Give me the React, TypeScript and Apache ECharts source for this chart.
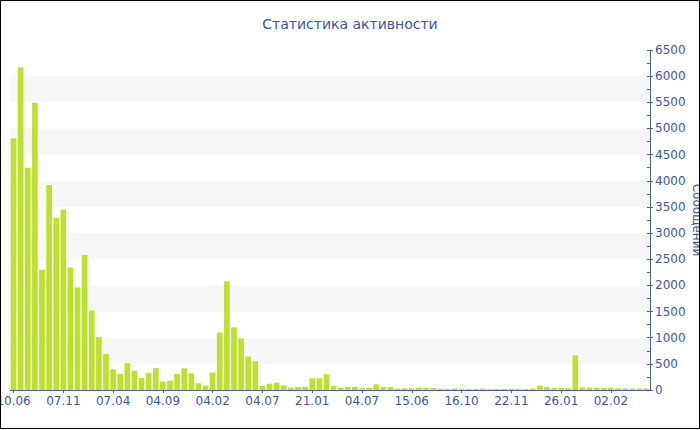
import React, { useEffect, useRef } from "react";
import * as echarts from "echarts";

const titleText = "Статистика активности";
const yAxisName = "Сообщений";

// labels shown every 7th category
const tickLabels = [
  "10.06", "07.11", "07.04", "04.09", "04.02", "04.07", "21.01",
  "04.07", "15.06", "16.10", "22.11", "26.01", "02.02",
];

// messages per period (90 bars)
const messageCounts = [
  4810, 6170, 4250, 5490, 2300, 3920, 3290, 3450, 2340, 1960,
  2580, 1520, 1010, 690, 395, 305, 510, 370, 230, 325,
  420, 160, 178, 306, 414, 318, 127, 83, 335, 1100,
  2077, 1198, 985, 637, 548, 76, 121, 140, 89, 45,
  57, 57, 223, 223, 300, 76, 45, 57, 57, 32,
  38, 108, 57, 57, 25, 32, 32, 45, 38, 38,
  25, 20, 30, 25, 22, 20, 25, 18, 22, 20,
  25, 22, 20, 28, 83, 57, 38, 38, 32, 663,
  51, 45, 45, 38, 45, 32, 30, 28, 30, 30,
];

const yMax = 6500;
const yStep = 500;

const categories = messageCounts.map((_, i) =>
  i % 7 === 0 ? tickLabels[i / 7] : `#${i}`
);

const BLUE = "#3e54a6";
const AXIS = "#4d5d9e";
const FONT = "DejaVu Sans";

const GRID_LEFT = 10;
const GRID_RIGHT = 50;
const GRID_TOP = 50;
const GRID_BOTTOM = 40;
const CHART_W = 700;
const CHART_H = 430;

export default function App() {
  const ref = useRef<HTMLDivElement>(null);

  useEffect(() => {
    document.body.style.margin = "0";
    const chart = echarts.init(ref.current!, null, { renderer: "svg" });
    chart.setOption({
      animation: false,
      backgroundColor: "#ffffff",
      title: {
        text: titleText,
        left: "center",
        top: 17,
        padding: 0,
        textStyle: {
          color: BLUE,
          fontFamily: FONT,
          fontSize: 14,
          fontWeight: "normal",
        },
      },
      grid: {
        left: GRID_LEFT,
        right: GRID_RIGHT,
        top: GRID_TOP,
        bottom: GRID_BOTTOM,
        containLabel: false,
        outerBoundsMode: "none",
      },
      graphic: [
        {
          type: "text",
          x: 697,
          y: (GRID_TOP + (CHART_H - GRID_BOTTOM)) / 2,
          rotation: -Math.PI / 2,
          style: {
            text: yAxisName,
            fill: BLUE,
            font: `12px "${FONT}"`,
            align: "center",
            verticalAlign: "middle",
          },
        },
      ],
      xAxis: {
        type: "category",
        data: categories,
        boundaryGap: true,
        axisLine: { show: true, lineStyle: { color: AXIS, width: 1 } },
        axisTick: {
          show: true,
          alignWithLabel: true,
          interval: 6,
          length: 3,
          lineStyle: { color: AXIS },
        },
        axisLabel: {
          interval: 6,
          color: BLUE,
          fontFamily: FONT,
          fontSize: 12,
          margin: 5,
        },
        splitLine: { show: false },
      },
      yAxis: [
        {
          type: "value",
          position: "right",
          min: 0,
          max: yMax,
          interval: yStep,
          axisLine: { show: true, lineStyle: { color: AXIS, width: 1 } },
          axisTick: { show: true, inside: false, length: 3, lineStyle: { color: AXIS } },
          axisLabel: {
            color: BLUE,
            fontFamily: FONT,
            fontSize: 12,
            margin: 5,
            formatter: (v: number) => String(v),
          },
          splitLine: { show: false },
          splitArea: { show: true, areaStyle: { color: ["#ffffff", "#f7f7f7"] } },
        },
        {
          // overlay axis at the same x, drawing the inner half of ticks and minor ticks
          type: "value",
          position: "left",
          offset: -(CHART_W - GRID_LEFT - GRID_RIGHT),
          min: 0,
          max: yMax,
          interval: yStep,
          axisLine: { show: false },
          axisTick: { show: true, inside: false, length: 3, lineStyle: { color: AXIS } },
          minorTick: { show: true, splitNumber: 2, length: 3, lineStyle: { color: AXIS } },
          axisLabel: { show: false },
          splitLine: { show: false },
          splitArea: { show: false },
        },
      ],
      series: [
        {
          type: "bar",
          yAxisIndex: 0,
          data: messageCounts,
          barCategoryGap: "20%",
          itemStyle: { color: "#bde12f" },
        },
      ],
    });
    return () => chart.dispose();
  }, []);

  return (
    <div style={{ position: "relative", width: CHART_W, height: CHART_H, overflow: "hidden" }}>
      <div ref={ref} style={{ position: "absolute", left: 0, top: 0, width: CHART_W, height: CHART_H }} />
      <div
        style={{
          position: "absolute",
          left: 0,
          top: 0,
          width: CHART_W,
          height: CHART_H - 1,
          boxSizing: "border-box",
          border: "1px solid #000",
          pointerEvents: "none",
        }}
      />
    </div>
  );
}
